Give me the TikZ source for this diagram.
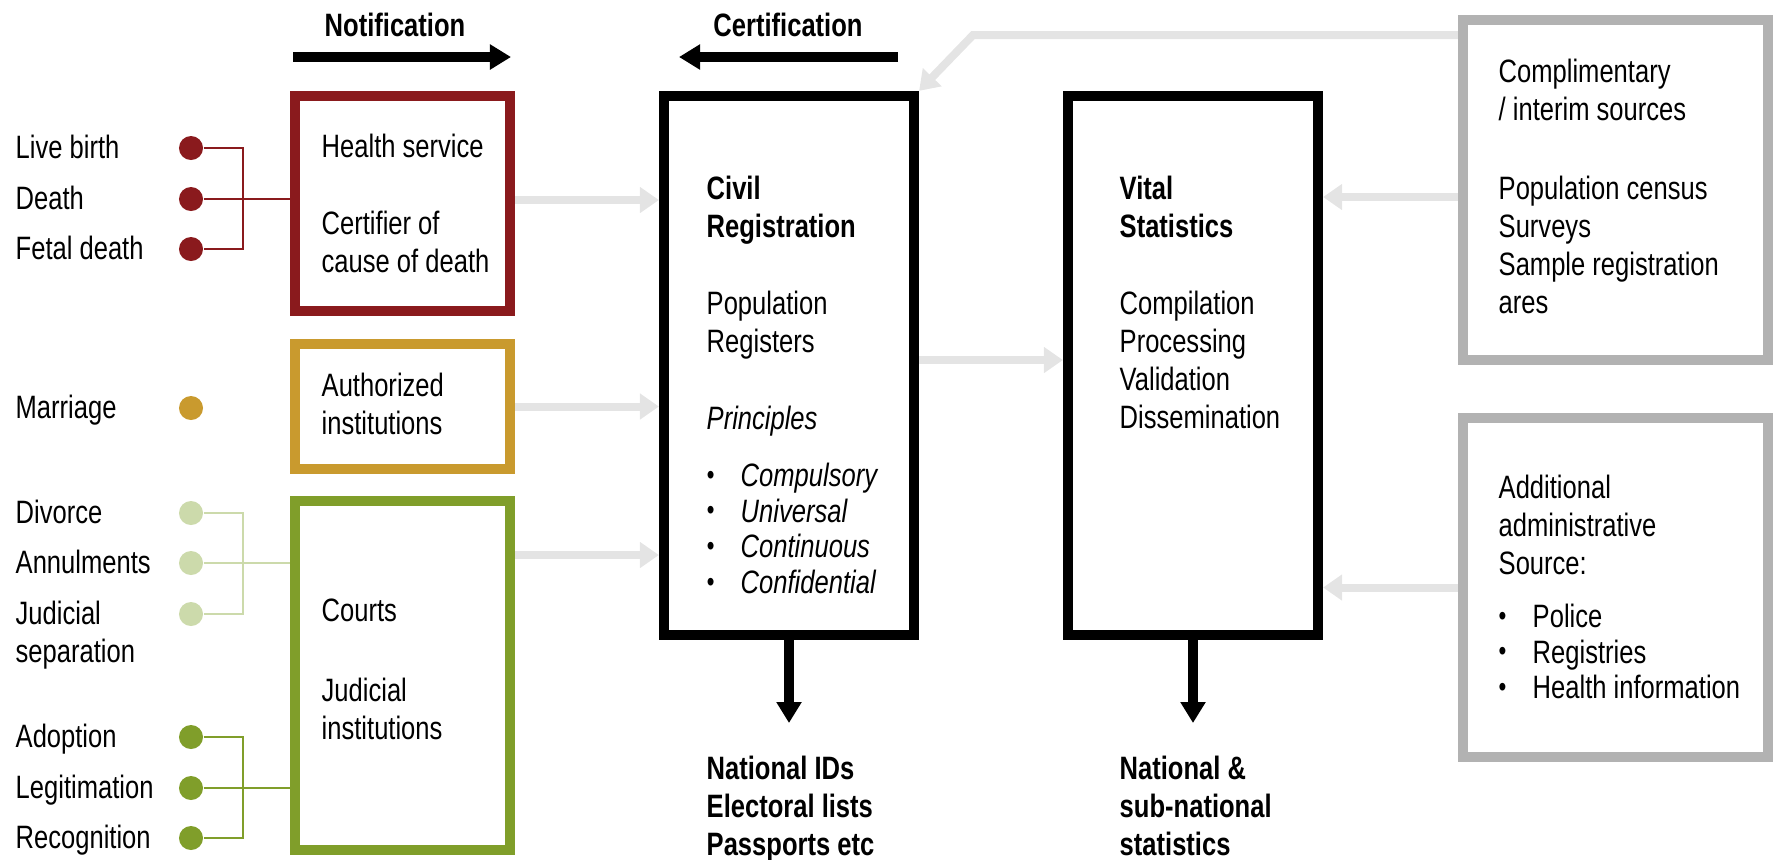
\documentclass[tikz,border=0pt]{standalone}
\usepackage{fontspec}
\setmainfont{Liberation Sans}[FakeStretch=0.79]
\usepackage{tikz}
\usetikzlibrary{positioning,arrows.meta,calc}
\definecolor{evRed}{HTML}{8A1A1D}
\definecolor{evGold}{HTML}{C99A2E}
\definecolor{evGreenLt}{HTML}{CCDAAB}
\definecolor{evGreen}{HTML}{809E2A}
\definecolor{srcGray}{HTML}{B2B2B2}
\definecolor{flowGray}{HTML}{E4E4E4}
\newcommand{\txtfont}{\fontsize{9.2}{10.8}\selectfont}
\newcommand{\lstfont}{\fontsize{9.2}{10.2}\selectfont}
\newcommand{\bul}[1]{\makebox[0.34cm][l]{\raisebox{0.6pt}{\fontsize{8}{8}\selectfont\textbullet}}#1}
\tikzset{
  framebox/.style={draw, line width=0.1cm, inner sep=0pt},
  txt/.style={anchor=north west, inner sep=0pt, align=left, font=\txtfont},
  hdtxt/.style={txt, font=\txtfont\bfseries},
  evdot/.style={circle, inner sep=0pt, minimum size=0.24cm},
  brkline/.style={line width=0.6pt},
  flowarrow/.style={flowGray, line width=0.08cm, -{Triangle[width=0.25cm, length=0.19cm]}},
  bigarrow/.style={black, line width=0.1cm, -{Triangle[width=0.24cm, length=0.21cm]}},
}
\begin{document}
\begin{tikzpicture}[x=0.01cm, y=-0.01cm]
\useasboundingbox (0,0) rectangle (1773,859);
\def\xLbl{15}   % x of event labels
\def\xDot{191}  % x of event dots
\def\xBrk{243}  % x of bracket lines
\def\xIn{321}   % x of texts in notifier boxes

%% Headings
\node[hdtxt, anchor=north] (nftxt) at (395,12) {Notification};
\coordinate (nfL) at (293,57);
\coordinate (nfR) at (511,57);
\draw[bigarrow] (nfL) -- (nfR);
\node[hdtxt, anchor=north] (cftxt) at (788,12) {Certification};
\coordinate (cfR) at (898,57);
\coordinate (cfL) at (679,57);
\draw[bigarrow] (cfR) -- (cfL);

%% Notifier boxes
\node[framebox, draw=evRed, minimum width=2.15cm, minimum height=2.15cm] (hsbox) at (402.5,203.5) {};
\node[framebox, draw=evGold, minimum width=2.15cm, minimum height=1.25cm] (aibox) at (402.5,406.5) {};
\node[framebox, draw=evGreen, minimum width=2.15cm, minimum height=3.49cm] (ctbox) at (402.5,675.5) {};

%% Registration and statistics boxes
\node[framebox, minimum width=2.5cm, minimum height=5.39cm] (crbox) at (789,365.5) {};
\node[framebox, minimum width=2.5cm, minimum height=5.39cm] (vsbox) at (1193,365.5) {};

%% Source boxes
\node[framebox, draw=srcGray, minimum width=3.05cm, minimum height=3.4cm] (csbox) at (1615.5,190) {};
\node[framebox, draw=srcGray, minimum width=3.05cm, minimum height=3.39cm] (adbox) at (1615.5,587.5) {};

%% Events
\foreach \id/\lbl/\y/\col in {1/Live birth/148/evRed, 2/Death/199/evRed, 3/Fetal death/249/evRed,
    4/Marriage/408/evGold, 5/Divorce/513/evGreenLt, 6/Annulments/563/evGreenLt,
    7/{Judicial\\separation}/614/evGreenLt, 8/Adoption/737/evGreen,
    9/Legitimation/788/evGreen, 10/Recognition/838/evGreen} {
  \node[txt] (ev\id) at (\xLbl,\y-14) {\lbl};
  \node[evdot, fill=\col] (d\id) at (\xDot,\y) {};
}

%% Brackets
\draw[brkline, evRed] (d1) -- (d1 -| \xBrk,0) |- (d3);
\draw[brkline, evRed] (d2) -- (d2 -| hsbox.west);
\draw[brkline, evGreenLt] (d5) -- (d5 -| \xBrk,0) |- (d7);
\draw[brkline, evGreenLt] (d6) -- (d6 -| ctbox.west);
\draw[brkline, evGreen] (d8) -- (d8 -| \xBrk,0) |- (d10);
\draw[brkline, evGreen] (d9) -- (d9 -| ctbox.west);

%% Box texts
\node[txt] (hs1) at (\xIn,133) {Health service};
\node[txt] (hs2) at (\xIn,210) {Certifier of\\cause of death};
\node[txt] (ai1) at (\xIn,372) {Authorized\\institutions};
\node[txt] (ct1) at (\xIn,598) {Courts};
\node[txt] (ct2) at (\xIn,677) {Judicial\\institutions};

\node[hdtxt] (cr1) at (706,175) {Civil\\Registration};
\node[txt] (cr2) at (706,290) {Population\\Registers};
\node[txt, font=\txtfont\itshape] (cr3) at (706,405) {Principles};
\node[txt, font=\lstfont\itshape] (cr4) at (706,462)
  {\bul{Compulsory}\\\bul{Universal}\\\bul{Continuous}\\\bul{Confidential}};

\node[hdtxt] (vs1) at (1119,175) {Vital\\Statistics};
\node[txt] (vs2) at (1119,290) {Compilation\\Processing\\Validation\\Dissemination};

\node[txt] (cs1) at (1498,58) {Complimentary\\/ interim sources};
\node[txt] (cs2) at (1498,175) {Population census\\Surveys\\Sample registration\\ares};
\node[txt] (ad1) at (1498,474) {Additional\\administrative\\Source:};
\node[txt, font=\lstfont] (ad2) at (1498,603)
  {\bul{Police}\\\bul{Registries}\\\bul{Health information}};

\node[hdtxt] (out1) at (706,755) {National IDs\\Electoral lists\\Passports etc};
\node[hdtxt] (out2) at (1119,755) {National \&\\sub-national\\statistics};

%% Flows
\draw[flowarrow] (hsbox.east |- 0,200) -- (crbox.west |- 0,200);
\draw[flowarrow] (aibox.east) -- (aibox.east -| crbox.west);
\draw[flowarrow] (ctbox.east |- 0,555) -- (crbox.west |- 0,555);
\draw[flowarrow] (crbox.east |- 0,360) -- (vsbox.west |- 0,360);
\draw[flowarrow] (csbox.west |- 0,197) -- (vsbox.east |- 0,197);
\draw[flowarrow] (adbox.west) -- (adbox.west -| vsbox.east);
\coordinate (bend) at (973,35);
\draw[flowarrow] (csbox.west |- bend) -- (bend) -- (crbox.north east);

%% Outputs
\coordinate (crEnd) at (crbox.south |- 0,723);
\coordinate (vsEnd) at (vsbox.south |- 0,723);
\draw[bigarrow] (crbox.south) -- (crEnd);
\draw[bigarrow] (vsbox.south) -- (vsEnd);
\end{tikzpicture}
\end{document}
